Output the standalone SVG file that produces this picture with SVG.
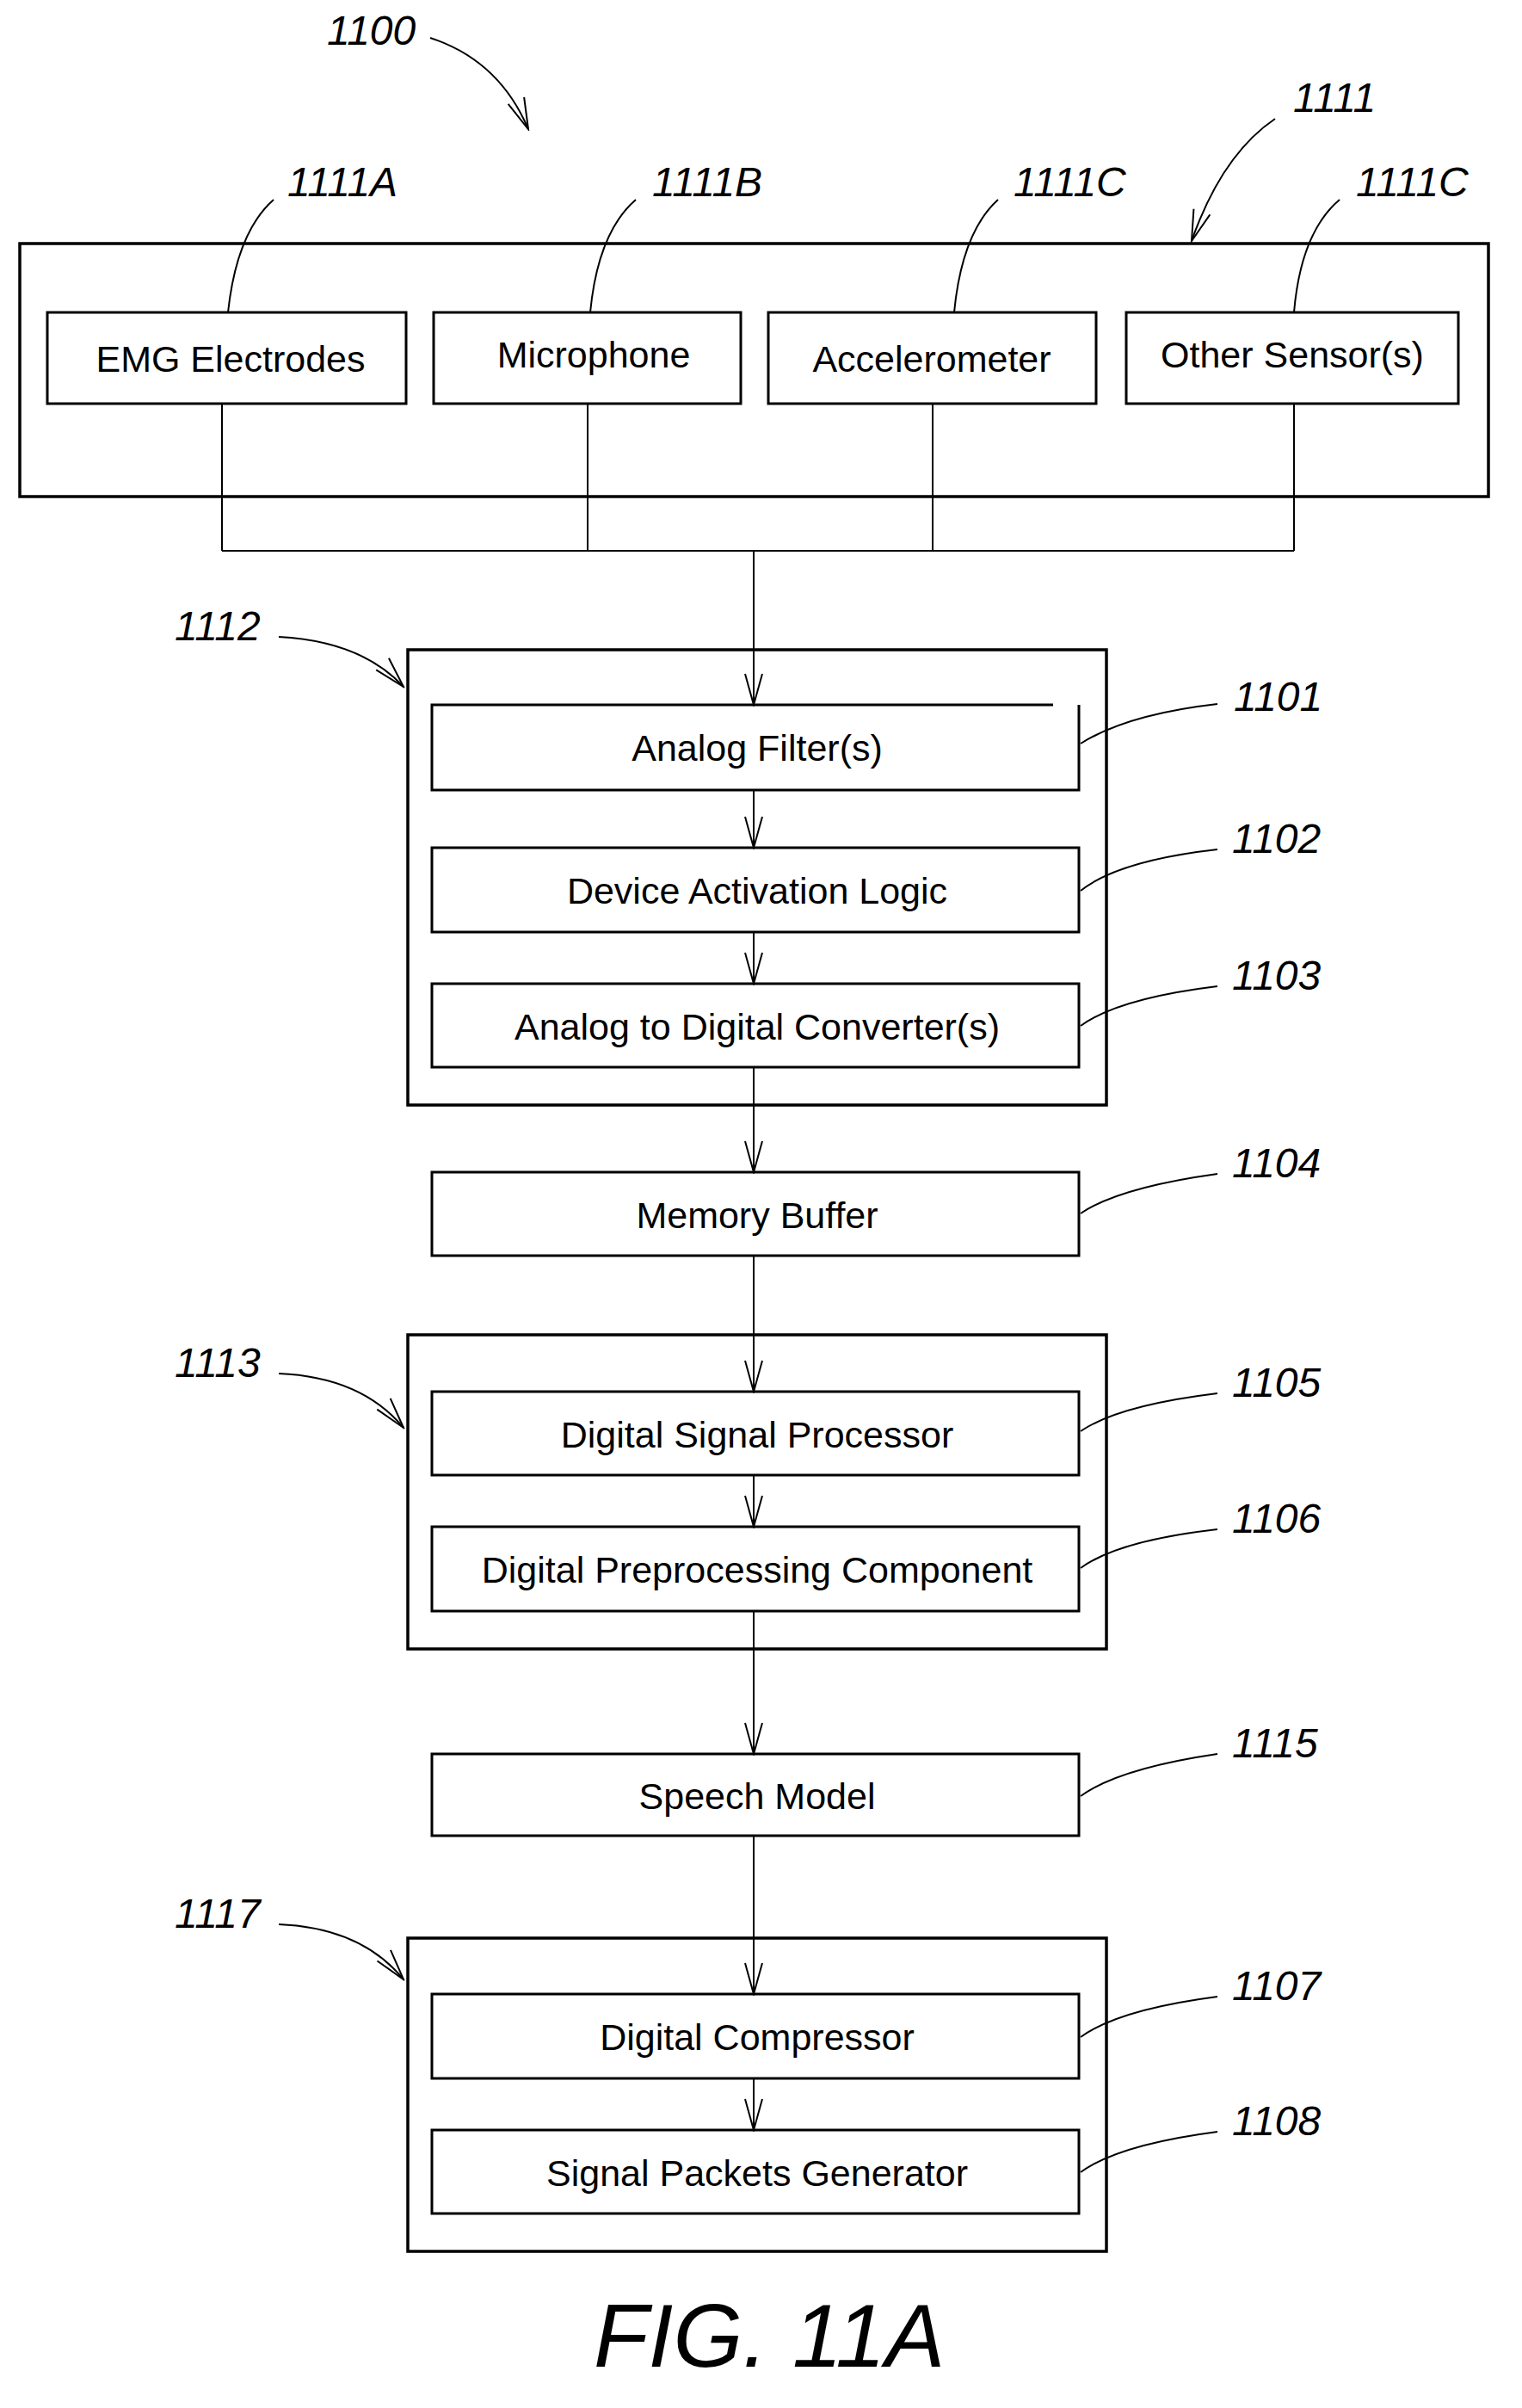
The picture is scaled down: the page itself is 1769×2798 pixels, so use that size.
<svg xmlns="http://www.w3.org/2000/svg" width="1769" height="2798" viewBox="0 0 1769 2798">
<defs>
<marker id="c" markerWidth="40" markerHeight="24" refX="38" refY="12" orient="auto" markerUnits="userSpaceOnUse" viewBox="0 0 40 24">
<path d="M2 2 L38 12 L2 22" fill="none" stroke="#000" stroke-width="2"/>
</marker>
</defs>
<style>
.b{fill:#fff;stroke:#000;stroke-width:3}
.o{fill:none;stroke:#000;stroke-width:3.5}
.t{font-family:"Liberation Sans",Arial,sans-serif;font-size:43px;text-anchor:middle;fill:#000}
.n{font-family:"Liberation Sans",Arial,sans-serif;font-size:48px;font-style:italic;fill:#000}
.l{fill:none;stroke:#000;stroke-width:2}
</style>
<rect width="1769" height="2798" fill="#fff"/>
<g id="g1111"><rect class="o" x="23" y="283" width="1707" height="294"/></g>
<g id="emg"><rect class="b" x="55" y="363" width="417" height="106"/><text class="t" x="268" y="432">EMG Electrodes</text></g>
<g id="mic"><rect class="b" x="504" y="363" width="357" height="106"/><text class="t" x="690" y="427">Microphone</text></g>
<g id="acc"><rect class="b" x="893" y="363" width="381" height="106"/><text class="t" x="1083" y="432">Accelerometer</text></g>
<g id="oth"><rect class="b" x="1309" y="363" width="386" height="106"/><text class="t" x="1502" y="427">Other Sensor(s)</text></g>
<g id="g1112"><rect class="o" x="474" y="755" width="812" height="529"/></g>
<g id="af"><path d="M1224 819 H502 V918 H1254 V819" fill="#fff" stroke="#000" stroke-width="3"/><text class="t" x="880" y="884">Analog Filter(s)</text></g>
<g id="dal"><rect class="b" x="502" y="985" width="752" height="98"/><text class="t" x="880" y="1050">Device Activation Logic</text></g>
<g id="adc"><rect class="b" x="502" y="1143" width="752" height="97"/><text class="t" x="880" y="1208">Analog to Digital Converter(s)</text></g>
<g id="mb"><rect class="b" x="502" y="1362" width="752" height="97"/><text class="t" x="880" y="1427">Memory Buffer</text></g>
<g id="g1113"><rect class="o" x="474" y="1551" width="812" height="365"/></g>
<g id="dsp"><rect class="b" x="502" y="1617" width="752" height="97"/><text class="t" x="880" y="1682">Digital Signal Processor</text></g>
<g id="dpc"><rect class="b" x="502" y="1774" width="752" height="98"/><text class="t" x="880" y="1839">Digital Preprocessing Component</text></g>
<g id="sm"><rect class="b" x="502" y="2038" width="752" height="95"/><text class="t" x="880" y="2102">Speech Model</text></g>
<g id="g1117"><rect class="o" x="474" y="2252" width="812" height="364"/></g>
<g id="dc"><rect class="b" x="502" y="2317" width="752" height="98"/><text class="t" x="880" y="2382">Digital Compressor</text></g>
<g id="spg"><rect class="b" x="502" y="2475" width="752" height="97"/><text class="t" x="880" y="2540">Signal Packets Generator</text></g>
<g id="connectors">
<path class="l" d="M258 469 V640 M683 469 V640 M1084 469 V640 M1504 469 V640 M258 640 H1504"/>
<path class="l" d="M876 640 V819" marker-end="url(#c)"/>
<path class="l" d="M876 918 V985" marker-end="url(#c)"/>
<path class="l" d="M876 1083 V1143" marker-end="url(#c)"/>
<path class="l" d="M876 1240 V1362" marker-end="url(#c)"/>
<path class="l" d="M876 1459 V1617" marker-end="url(#c)"/>
<path class="l" d="M876 1714 V1774" marker-end="url(#c)"/>
<path class="l" d="M876 1872 V2038" marker-end="url(#c)"/>
<path class="l" d="M876 2133 V2317" marker-end="url(#c)"/>
<path class="l" d="M876 2415 V2475" marker-end="url(#c)"/>
</g>
<g id="labels">
<text class="n" x="380" y="52">1100</text>
<path class="l" d="M500 44 Q580 70 614 150" marker-end="url(#c)"/>
<text class="n" x="1503" y="130">1111</text>
<path class="l" d="M1482 138 Q1420 180 1385 280" marker-end="url(#c)"/>
<text class="n" x="334" y="228">1111A</text>
<path class="l" d="M318 232 Q275 270 265 363"/>
<text class="n" x="758" y="228">1111B</text>
<path class="l" d="M739 232 Q695 270 686 363"/>
<text class="n" x="1178" y="228">1111C</text>
<path class="l" d="M1160 232 Q1118 270 1109 363"/>
<text class="n" x="1576" y="228">1111C</text>
<path class="l" d="M1557 232 Q1512 270 1504 363"/>
<text class="n" x="203" y="744">1112</text>
<path class="l" d="M324 740 Q420 745 469 798" marker-end="url(#c)"/>
<text class="n" x="203" y="1600">1113</text>
<path class="l" d="M324 1596 Q420 1600 469 1659" marker-end="url(#c)"/>
<text class="n" x="203" y="2240">1117</text>
<path class="l" d="M324 2236 Q420 2240 469 2300" marker-end="url(#c)"/>
<text class="n" x="1434" y="826">1101</text>
<path class="l" d="M1415 818 Q1310 830 1256 864"/>
<text class="n" x="1432" y="991">1102</text>
<path class="l" d="M1415 987 Q1300 1000 1256 1035"/>
<text class="n" x="1432" y="1150">1103</text>
<path class="l" d="M1415 1146 Q1300 1160 1256 1192"/>
<text class="n" x="1432" y="1368">1104</text>
<path class="l" d="M1415 1364 Q1300 1380 1256 1410"/>
<text class="n" x="1432" y="1623">1105</text>
<path class="l" d="M1415 1619 Q1300 1633 1256 1663"/>
<text class="n" x="1432" y="1781">1106</text>
<path class="l" d="M1415 1777 Q1300 1790 1256 1822"/>
<text class="n" x="1432" y="2042">1115</text>
<path class="l" d="M1415 2038 Q1300 2055 1256 2087"/>
<text class="n" x="1432" y="2324">1107</text>
<path class="l" d="M1415 2320 Q1300 2335 1256 2367"/>
<text class="n" x="1432" y="2481">1108</text>
<path class="l" d="M1415 2477 Q1300 2492 1256 2524"/>
<text x="690" y="2750" font-family="Liberation Sans, Arial, sans-serif" font-size="104" font-style="italic">FIG.  11A</text>
</g>
</svg>
